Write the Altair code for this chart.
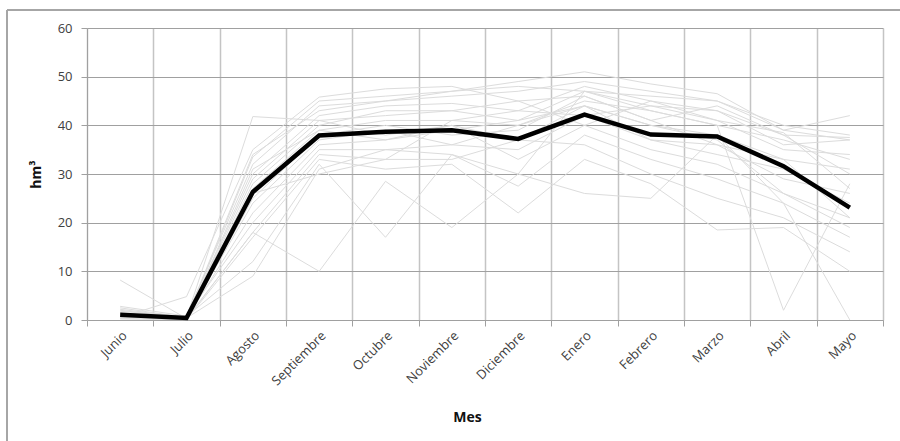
import altair as alt
import pandas as pd

meses = ["Junio", "Julio", "Agosto", "Septiembre", "Octubre", "Noviembre",
         "Diciembre", "Enero", "Febrero", "Marzo", "Abril", "Mayo"]

media = [1.1, 0.4, 26.3, 37.9, 38.7, 39.0, 37.2, 42.2, 38.1, 37.7, 31.6, 23.1]

s01 = [2.5, 0.5, 41.8, 41.0, 38.0, 40.0, 37.0, 44.0, 40.0, 38.0, 33.0, 21.0]
s02 = [8.2, 0.3, 18.0, 10.0, 28.5, 19.0, 30.0, 47.0, 43.0, 40.0, 2.0, 28.0]
s03 = [0.5, 4.8, 35.0, 45.8, 47.5, 48.0, 45.0, 46.0, 41.0, 44.0, 38.0, 37.5]
s04 = [1.0, 0.2, 33.5, 45.0, 46.0, 47.0, 49.0, 51.0, 48.5, 46.5, 39.0, 42.0]
s05 = [2.8, 0.8, 32.0, 44.0, 45.0, 46.0, 47.0, 49.0, 47.0, 45.0, 40.0, 38.0]
s06 = [1.5, 0.4, 30.0, 42.0, 44.0, 44.5, 43.0, 48.0, 45.0, 43.0, 36.0, 37.0]
s07 = [0.3, 0.1, 28.0, 40.0, 43.0, 43.0, 41.0, 47.0, 44.0, 41.0, 35.0, 34.0]
s08 = [0.8, 0.6, 27.0, 39.0, 41.0, 41.0, 40.0, 45.0, 43.0, 40.0, 37.0, 33.0]
s09 = [1.2, 0.2, 25.0, 38.0, 40.0, 38.0, 39.0, 46.0, 41.0, 36.0, 29.0, 26.0]
s10 = [0.6, 0.5, 24.0, 37.0, 39.0, 36.0, 35.0, 42.0, 37.0, 34.0, 31.0, 24.0]
s11 = [2.0, 0.3, 22.0, 36.0, 37.0, 40.0, 33.0, 40.0, 35.0, 32.0, 26.0, 19.0]
s12 = [0.4, 0.9, 20.0, 35.0, 35.0, 34.0, 27.5, 38.0, 33.0, 29.0, 24.0, 17.0]
s13 = [1.0, 0.2, 18.0, 34.0, 33.0, 33.0, 37.0, 36.0, 30.0, 25.0, 21.0, 14.0]
s14 = [0.2, 0.1, 17.0, 33.0, 31.0, 32.0, 22.0, 33.0, 28.0, 18.5, 19.0, 10.0]
s15 = [1.8, 0.7, 12.0, 32.0, 17.0, 34.0, 30.0, 26.0, 25.0, 38.0, 24.0, 0.0]
s16 = [0.9, 0.4, 9.0, 31.0, 35.0, 36.0, 40.0, 44.0, 37.0, 36.0, 33.0, 31.0]
s17 = [1.4, 0.2, 26.0, 30.0, 33.0, 41.0, 43.0, 42.0, 44.0, 43.0, 38.0, 30.0]
s18 = [0.7, 0.3, 29.0, 41.0, 42.0, 43.0, 45.0, 40.0, 45.0, 41.0, 38.5, 27.0]
s19 = [2.2, 0.5, 34.0, 43.0, 45.0, 47.0, 48.0, 47.0, 46.0, 45.0, 39.0, 37.0]
s20 = [0.5, 0.2, 31.0, 39.0, 37.0, 39.0, 41.0, 44.0, 40.0, 37.0, 26.0, 21.0]

series = [s01, s02, s03, s04, s05, s06, s07, s08, s09, s10,
          s11, s12, s13, s14, s15, s16, s17, s18, s19, s20]

rows = []
for i, s in enumerate(series):
    for m, v in zip(meses, s):
        rows.append({"serie": f"s{i+1}", "mes": m, "valor": v})
df_gray = pd.DataFrame(rows)
df_mean = pd.DataFrame({"mes": meses, "valor": media})

FONT = "Open Sans"
GRID = "#a0a0a0"

x_enc = alt.X(
    "mes:N", sort=meses, bandPosition=0.5,
    scale=alt.Scale(type="band", paddingInner=0, paddingOuter=0),
    axis=alt.Axis(
        title="Mes", tickBand="extent", labelAngle=-45, labelAlign="right",
        labelBaseline="top", labelPadding=3, labelFontSize=13, labelColor="#404040",
        labelFont=FONT, grid=True, gridColor="#c4c4c4", gridWidth=1.5,
        tickColor="#a0a0a0", tickSize=6, domainColor=GRID,
        titleFont=FONT, titleFontSize=14, titleFontWeight="bold", titleColor="#111111",
        titleX=380, titleY=97, titleBaseline="middle", titleAnchor="middle",
    ),
)
y_enc = alt.Y(
    "valor:Q",
    scale=alt.Scale(domain=[0, 60], nice=False),
    axis=alt.Axis(
        title="hm³", values=[0, 10, 20, 30, 40, 50, 60], grid=True,
        gridColor=GRID, gridWidth=1, tickColor=GRID, tickSize=6,
        domainColor=GRID, labelPadding=9, labelFontSize=13, labelColor="#404040",
        labelFont=FONT, titleFont=FONT, titleFontSize=14, titleFontWeight="bold",
        titleColor="#111111", titlePadding=14,
    ),
)

gray = alt.Chart(df_gray).mark_line(color="#dcdcdc", strokeWidth=1).encode(
    x=x_enc, y=y_enc, detail="serie:N"
)
black = alt.Chart(df_mean).mark_line(color="#000000", strokeWidth=4.5).encode(
    x=alt.X("mes:N", sort=meses, bandPosition=0.5), y="valor:Q"
)

border_top = alt.Chart(df_mean).mark_rule(color="#a6a6a6", strokeWidth=2).encode(
    x=alt.value(-80), x2=alt.value(813), y=alt.value(-18)
)
border_left = alt.Chart(df_mean).mark_rule(color="#a6a6a6", strokeWidth=2).encode(
    x=alt.value(-80), y=alt.value(-18), y2=alt.value(413)
)

chart = alt.layer(gray, black, border_top, border_left).properties(
    width=796, height=292,
    autosize=alt.AutoSizeParams(type="none"),
    padding={"left": 87, "top": 28, "right": 17, "bottom": 121},
).configure_view(stroke=None)

chart.save("out.html", embed_options={"renderer": "svg", "actions": False})
